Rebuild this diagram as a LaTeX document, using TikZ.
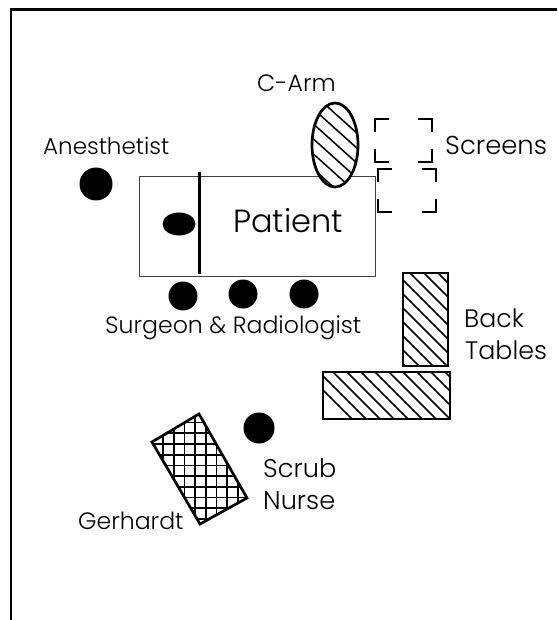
\documentclass[tikz,border=0pt]{standalone}
\usepackage{fontspec}
\usetikzlibrary{shapes.geometric}
\setmainfont{Poppins Light}
\tikzset{
  lab/.style={font=\fontsize{23.6}{28}\selectfont, inner sep=0pt, anchor=base west, text=black},
  person/.style={circle, fill=black, inner sep=0pt},
  hatchline/.style={line width=1.5pt},
  gridline/.style={line width=1.7pt},
  outline/.style={line width=2.7pt},
  bracket/.style={line width=2.4pt}
}
\begin{document}
\begin{tikzpicture}[x=1pt,y=-1pt]
\useasboundingbox (0,0) rectangle (557,620);
\fill[white] (0,0) rectangle (557,620);
% frame
\draw[line width=2.4pt] (11,620) -- (11,9.5) -- (557,9.5);
% patient table
\node[draw=black!75, line width=1.4pt, minimum width=236pt, minimum height=100pt, inner sep=0pt, anchor=north west] (table) at (139,176) {};
\coordinate (divT) at (199,172);
\coordinate (divB) at (199,274);
\draw[line width=3pt] (divT) -- (divB);
\node[ellipse, fill=black, minimum width=33pt, minimum height=23pt, inner sep=0pt] (head) at (179,224) {};
\node[lab, font=\fontsize{32}{36}\selectfont] (patient) at (233,232) {Patient};
% people
\node[person, minimum size=33pt] (anes) at (96,184) {};
\node[person, minimum size=29pt] (s1) at (183,296) {};
\node[person, minimum size=29pt] (s2) at (243,294) {};
\node[person, minimum size=29pt] (s3) at (304,294) {};
\node[person, minimum size=31pt] (scrub) at (259,428) {};
% C-arm
\fill[white] (335,145) ellipse (23 and 42);
\begin{scope}
\clip (335,145) ellipse (23 and 42);
\foreach \k in {-3,-2,...,7} \draw[hatchline] (282,95.7+\k*15) -- ++(100,90);
\end{scope}
\draw[outline] (335,145) ellipse (23 and 42);
% screens
\foreach \l/\t/\r/\b in {375/119/432/162, 378/169/436/212} {
  \draw[bracket] (\l+14,\t) -- (\l,\t) -- (\l,\t+13);
  \draw[bracket] (\r-14,\t) -- (\r,\t) -- (\r,\t+13);
  \draw[bracket] (\l,\b-13) -- (\l,\b) -- (\l+14,\b);
  \draw[bracket] (\r,\b-13) -- (\r,\b) -- (\r-14,\b);
}
% back tables
\begin{scope}
\clip (403,273) rectangle (448,366);
\foreach \k in {0,1,...,12} \draw[hatchline] (248+\k*14,223) -- ++(300,300);
\end{scope}
\draw[outline] (403,273) rectangle (448,366);
\begin{scope}
\clip (323,372) rectangle (450,419);
\foreach \k in {0,1,...,14} \draw[hatchline] (255+\k*14,322) -- ++(200,200);
\end{scope}
\draw[outline] (323,372) rectangle (450,419);
% Gerhardt
\begin{scope}
\clip (152,442) -- (199,414) -- (247,498) -- (200,524) -- cycle;
\foreach \k in {0,1,...,9} \draw[gridline] (152.3+\k*10.7,410) -- ++(0,120);
\foreach \k in {0,1,...,10} \draw[gridline] (150,422.6+\k*10.7) -- ++(100,0);
\end{scope}
\draw[outline, line join=miter] (152,442) -- (199,414) -- (247,498) -- (200,524) -- cycle;
% labels
\node[lab] (carm) at (257,92) {C-Arm};
\node[lab, font=\fontsize{23}{28}\selectfont] (anesl) at (43,155) {Anesthetist};
\node[lab, font=\fontsize{25.9}{30}\selectfont] (screens) at (445,155) {Screens};
\node[lab] (surg) at (105,333) {Surgeon \& Radiologist};
\node[lab, font=\fontsize{25.3}{30}\selectfont] (back) at (464,327) {Back};
\node[lab, font=\fontsize{25.3}{30}\selectfont] (tables) at (465,359) {Tables};
\node[lab, font=\fontsize{25.6}{30}\selectfont] (scrubl) at (263,477) {Scrub};
\node[lab, font=\fontsize{25.6}{30}\selectfont] (nurse) at (263,509) {Nurse};
\node[lab] (gerh) at (78,529) {Gerhardt};
\end{tikzpicture}
\end{document}
